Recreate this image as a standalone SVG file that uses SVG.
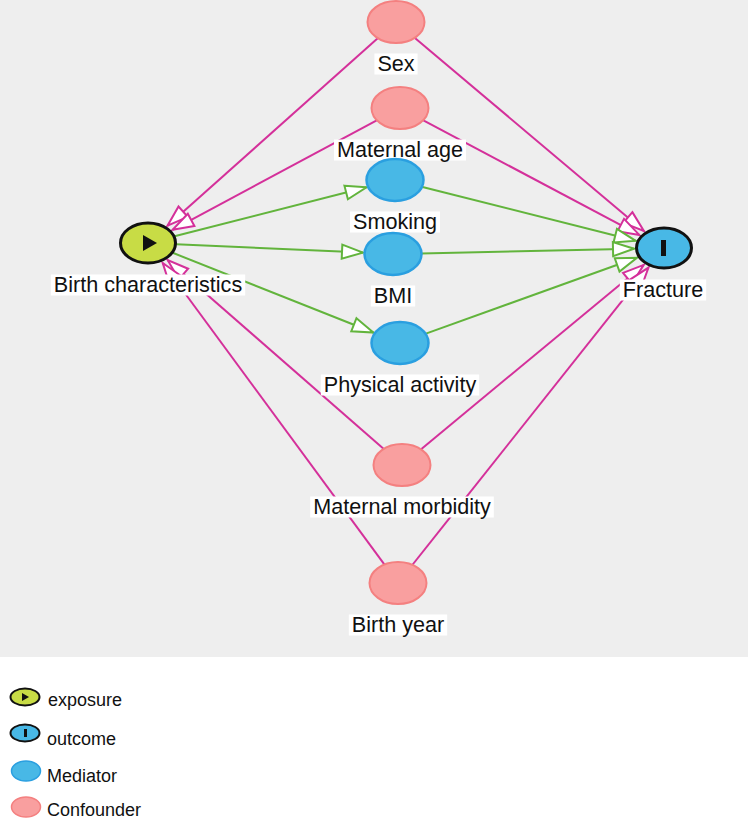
<svg xmlns="http://www.w3.org/2000/svg" width="748" height="821" viewBox="0 0 748 821">
<style>
text{font-family:"Liberation Sans",Arial,sans-serif;fill:#111}
.lbl{font-size:21.6px;text-anchor:middle}
.leg{font-size:18px}
.box{fill:#fff}
.conf{fill:#f99f9f;stroke:#f48080;stroke-width:2}
.med{fill:#48b8e6;stroke:#2a9fe0;stroke-width:2.5}
.exp{fill:#c8dc45;stroke:#111;stroke-width:3}
.out{fill:#48b8e6;stroke:#111;stroke-width:3}
.pink{stroke:#d4309a;stroke-width:2;fill:none;marker-end:url(#ap)}
.green{stroke:#62b43c;stroke-width:2;fill:none;marker-end:url(#ag)}
</style>
<defs>
<marker id="ap" markerUnits="userSpaceOnUse" markerWidth="26" markerHeight="18" refX="21" refY="7" orient="auto" viewBox="-2 -2 26 18">
<path d="M0,0 L21,7 L0,14 Z" fill="#fff" stroke="#d4309a" stroke-width="2"/>
</marker>
<marker id="ag" markerUnits="userSpaceOnUse" markerWidth="26" markerHeight="18" refX="21" refY="7" orient="auto" viewBox="-2 -2 26 18">
<path d="M0,0 L21,7 L0,14 Z" fill="#fff" stroke="#62b43c" stroke-width="2"/>
</marker>
</defs>
<rect x="0" y="0" width="748" height="657" fill="#eeeeee"/>
<rect x="0" y="657" width="748" height="164" fill="#ffffff"/>
<g id="connectors">
<line class="pink" x1="378" y1="38" x2="167.5" y2="225.7"/>
<line class="pink" x1="414.6" y1="37.7" x2="643.9" y2="231"/>
<line class="pink" x1="377.2" y1="120.2" x2="172.6" y2="229.8"/>
<line class="pink" x1="422.9" y1="120.1" x2="639.3" y2="234.9"/>
<line class="pink" x1="383.8" y1="449.1" x2="167.7" y2="260.2"/>
<line class="pink" x1="420.8" y1="449.4" x2="643.7" y2="264.9"/>
<line class="pink" x1="384.5" y1="564.6" x2="162.7" y2="263"/>
<line class="pink" x1="412.3" y1="565" x2="648.5" y2="267.6"/>
<line class="green" x1="174.5" y1="236.2" x2="366.5" y2="187.3"/>
<line class="green" x1="176" y1="244.3" x2="363" y2="252.6"/>
<line class="green" x1="172.7" y1="252.8" x2="373.4" y2="332.5"/>
<line class="green" x1="421.5" y1="186.7" x2="635.6" y2="240.8"/>
<line class="green" x1="421" y1="253.4" x2="634" y2="248.7"/>
<line class="green" x1="425.2" y1="333.9" x2="636.9" y2="257.8"/>
</g>
<g id="sex">
<ellipse class="conf" cx="396" cy="22" rx="28.5" ry="21"/>
<rect class="box" x="374.4" y="53.5" width="43.2" height="21"/>
<text class="lbl" x="396" y="70.5">Sex</text>
</g>
<g id="maternal-age">
<ellipse class="conf" cx="400" cy="108" rx="28.5" ry="21"/>
<rect class="box" x="334" y="139.5" width="132" height="21"/>
<text class="lbl" x="400" y="156.5">Maternal age</text>
</g>
<g id="smoking">
<ellipse class="med" cx="395" cy="180" rx="28.5" ry="21"/>
<rect class="box" x="350" y="211.5" width="90" height="21"/>
<text class="lbl" x="395" y="228.5">Smoking</text>
</g>
<g id="bmi">
<ellipse class="med" cx="393" cy="254" rx="28.5" ry="21"/>
<rect class="box" x="370.8" y="285.5" width="44.4" height="21"/>
<text class="lbl" x="393" y="302.5">BMI</text>
</g>
<g id="physical-activity">
<ellipse class="med" cx="400" cy="343" rx="28.5" ry="21"/>
<rect class="box" x="320.8" y="374.5" width="158.4" height="21"/>
<text class="lbl" x="400" y="391.5">Physical activity</text>
</g>
<g id="maternal-morbidity">
<ellipse class="conf" cx="402" cy="465" rx="28.5" ry="21"/>
<rect class="box" x="310.2" y="496.5" width="183.6" height="21"/>
<text class="lbl" x="402" y="513.5">Maternal morbidity</text>
</g>
<g id="birth-year">
<ellipse class="conf" cx="398" cy="583" rx="28.5" ry="21"/>
<rect class="box" x="348.8" y="614.5" width="98.4" height="21"/>
<text class="lbl" x="398" y="631.5">Birth year</text>
</g>
<g id="birth-characteristics">
<ellipse class="exp" cx="148" cy="243" rx="27.5" ry="20"/>
<path d="M143,235 L143,251 L157,243 Z" fill="#111"/>
<rect class="box" x="50.8" y="274.5" width="194.4" height="21"/>
<text class="lbl" x="148" y="291.5">Birth characteristics</text>
</g>
<g id="fracture">
<ellipse class="out" cx="664" cy="248" rx="27.5" ry="20"/>
<rect x="661" y="240" width="5" height="16" fill="#111"/>
<rect class="box" x="619.8" y="279.5" width="86.4" height="21"/>
<text class="lbl" x="663" y="296.5">Fracture</text>
</g>
<g id="legend">
<ellipse class="exp" cx="25" cy="697" rx="14.5" ry="8.5" style="stroke-width:2"/>
<path d="M22,693 L22,701 L29,697 Z" fill="#111"/>
<text class="leg" x="48" y="706">exposure</text>
<ellipse class="out" cx="25" cy="733" rx="14.5" ry="8.5" style="stroke-width:2"/>
<rect x="24" y="729" width="3" height="8" fill="#111"/>
<text class="leg" x="47" y="745">outcome</text>
<ellipse class="med" cx="26" cy="771" rx="14.5" ry="10" style="stroke-width:1.5"/>
<text class="leg" x="47" y="782">Mediator</text>
<ellipse class="conf" cx="26" cy="807" rx="14.5" ry="10" style="stroke-width:1.5"/>
<text class="leg" x="47" y="816">Confounder</text>
</g>
</svg>
